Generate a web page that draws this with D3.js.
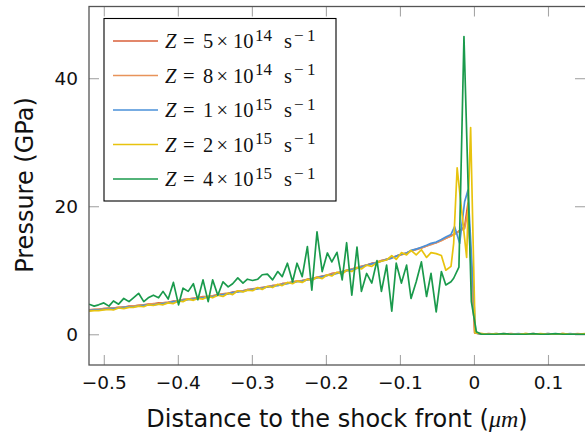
<!DOCTYPE html>
<html><head><meta charset="utf-8">
<script src="https://cdn.jsdelivr.net/npm/d3@7/dist/d3.min.js"></script>
<style>body{margin:0;background:#fff} svg{display:block}</style>
</head><body>
<svg id="chart" width="585" height="434"></svg>
<script>
// ---------- data ----------
const distance = [
 -0.520,-0.513,-0.507,-0.500,-0.493,-0.487,-0.480,-0.473,-0.466,-0.460,
 -0.453,-0.446,-0.440,-0.433,-0.426,-0.420,-0.413,-0.406,-0.399,-0.393,
 -0.386,-0.379,-0.373,-0.366,-0.359,-0.353,-0.346,-0.339,-0.332,-0.326,
 -0.319,-0.312,-0.306,-0.299,-0.292,-0.286,-0.279,-0.272,-0.265,-0.259,
 -0.252,-0.245,-0.239,-0.232,-0.225,-0.219,-0.212,-0.205,-0.198,-0.192,
 -0.185,-0.178,-0.172,-0.165,-0.158,-0.152,-0.145,-0.138,-0.131,-0.125,
 -0.118,-0.111,-0.105,-0.098,-0.091,-0.085,-0.078,-0.071,-0.064,-0.058,
 -0.051,-0.044,-0.038,-0.031];
const tailDistance = [0.01,0.02,0.03,0.04,0.05,0.06,0.07,0.08,0.09,0.10,0.11,0.12,0.13,0.14,0.15];

const pressure5e14 = [
 3.8,3.9,3.9,4.0,4.1,4.1,4.2,4.2,4.4,4.4,
 4.5,4.6,4.7,4.7,4.9,4.9,5.0,5.2,5.2,5.4,
 5.5,5.6,5.7,5.9,5.9,6.0,6.2,6.3,6.4,6.6,
 6.7,6.8,7.0,7.0,7.2,7.3,7.4,7.6,7.7,7.9,
 8.0,8.2,8.3,8.4,8.6,8.7,8.9,9.1,9.2,9.5,
 9.6,9.8,10.0,10.2,10.4,10.6,10.8,11.1,11.2,11.5,
 11.7,12.0,12.2,12.5,12.7,13.0,13.3,13.5,13.8,14.1,
 14.3,14.7,15.0,15.4];
const pressure8e14 = [
 3.8,3.8,3.9,4.0,4.0,4.1,4.2,4.3,4.3,4.4,
 4.5,4.6,4.6,4.8,4.8,4.9,5.0,5.1,5.3,5.4,
 5.5,5.6,5.7,5.8,5.9,6.0,6.1,6.3,6.4,6.5,
 6.7,6.8,6.9,7.1,7.2,7.3,7.4,7.6,7.7,7.9,
 8.0,8.1,8.3,8.4,8.5,8.7,8.9,9.0,9.3,9.4,
 9.6,9.8,10.0,10.2,10.4,10.6,10.8,11.0,11.3,11.5,
 11.7,11.9,12.2,12.4,12.7,13.0,13.2,13.5,13.8,14.0,
 14.3,14.6,15.0,15.3];
const pressure1e15 = [
 3.7,3.8,3.8,3.9,4.0,4.0,4.1,4.2,4.3,4.3,
 4.4,4.5,4.6,4.6,4.7,4.8,4.9,5.1,5.1,5.3,
 5.4,5.5,5.6,5.7,5.8,5.9,6.1,6.2,6.3,6.5,
 6.6,6.7,6.9,7.0,7.1,7.2,7.4,7.5,7.6,7.8,
 7.9,8.1,8.2,8.3,8.5,8.6,8.8,9.0,9.2,9.3,
 9.5,9.7,9.9,10.1,10.3,10.5,10.8,11.0,11.2,11.4,
 11.7,11.9,12.2,12.5,12.7,13.1,13.3,13.6,13.9,14.2,
 14.4,14.8,15.2,15.6];
const pressure2e15 = [
 3.6,3.7,3.7,3.8,3.9,3.8,4.1,4.0,4.2,4.2,
 4.4,4.3,4.6,4.5,4.7,4.6,4.9,4.8,5.2,5.1,
 5.5,5.3,5.6,5.5,5.9,5.7,6.1,5.9,6.4,6.2,
 6.8,6.6,6.9,6.8,7.3,7.0,7.5,7.3,7.8,7.6,
 8.1,7.9,8.3,8.1,8.6,8.4,8.9,8.7,9.3,9.1,
 9.7,9.4,10.0,9.8,10.4,10.2,10.8,10.6,11.2,11.4,
 11.6,12.3,11.7,12.75,12.4,13.1,12.4,13.2,12.0,12.75,
 12.6,12.3,10.0,10.6];
const pressure4e15 = [
 4.7,4.4,4.6,4.9,4.4,5.2,4.7,5.6,5.1,5.7,
 6.4,5.1,5.7,6.1,5.7,6.7,5.5,8.1,4.6,7.2,
 6.7,7.9,5.4,8.5,5.1,8.5,6.1,8.2,7.4,7.9,
 8.8,8.0,8.6,8.4,8.6,9.3,9.4,8.5,9.8,9.0,
 11.1,8.2,11.1,9.0,13.7,6.9,16.0,9.8,12.7,11.3,
 12.8,8.5,14.3,6.1,13.6,6.7,9.5,8.0,11.5,6.7,
 10.8,3.6,11.1,8.0,10.8,5.6,8.2,11.3,5.9,9.5,
 3.5,9.8,7.7,8.2];

// points at the shock front (own sampling per run)
const frontDistance5e14 = [-0.0238,-0.0126,-0.0081,0.0010];
const frontPressure5e14 = [15.8,16.8,20.5,0.2];
const frontDistance8e14 = [-0.0238,-0.0126,-0.0081,0.0010];
const frontPressure8e14 = [15.9,16.5,19.2,0.2];
const frontDistance1e15 = [-0.0261,-0.0193,-0.0126,-0.0081,0.0023];
const frontPressure1e15 = [16.8,14.2,20.7,22.5,0.2];
const frontDistance2e15 = [-0.0274,-0.0227,-0.0099,-0.0045,0.0016];
const frontPressure2e15 = [14.2,26.0,12.0,32.3,0.2];
const frontDistance4e15 = [-0.0274,-0.0203,-0.0135,-0.0035,0.0032];
const frontPressure4e15 = [8.75,10.5,46.5,5.1,0.4];

// ahead of the front
const tail5e14 = [0.0,0.1,0.0,0.0,0.1,0.0,0.0,0.1,0.0,0.0,0.0,0.1,0.0,0.0,0.0];
const tail8e14 = [0.1,0.0,0.0,0.1,0.0,0.0,0.1,0.0,0.0,0.1,0.0,0.0,0.0,0.1,0.0];
const tail1e15 = [0.0,0.0,0.1,0.0,0.0,0.1,0.0,0.0,0.0,0.1,0.0,0.0,0.1,0.0,0.0];
const tail2e15 = [0.1,0.0,0.1,0.0,0.0,0.0,0.1,0.0,0.1,0.0,0.0,0.1,0.0,0.0,0.1];
const tail4e15 = [0.0,0.0,0.0,0.1,0.0,0.0,0.0,0.1,0.0,0.0,0.1,0.0,0.0,0.0,0.0];

const legendMantissa = ["5","8","1","2","4"];
const legendExponent = ["14","14","15","15","15"];
const seriesColors = ["#d95f3a","#e8935a","#4a90d9","#e8c30e","#1a9a4c"];

const xTicks = [-0.5,-0.4,-0.3,-0.2,-0.1,0,0.1];
const xTickLabels = ["\u22120.5","\u22120.4","\u22120.3","\u22120.2","\u22120.1","0","0.1"];
const yTicks = [0,20,40];
const yTickLabels = ["0","20","40"];

// ---------- build ----------
function build(bulk, fx, fy, tail){
  const pts = distance.map((d,i)=>[d,bulk[i]]);
  fx.forEach((d,i)=>pts.push([d,fy[i]]));
  tailDistance.forEach((d,i)=>pts.push([d,tail[i]]));
  return pts;
}
const series = [
  build(pressure5e14, frontDistance5e14, frontPressure5e14, tail5e14),
  build(pressure8e14, frontDistance8e14, frontPressure8e14, tail8e14),
  build(pressure1e15, frontDistance1e15, frontPressure1e15, tail1e15),
  build(pressure2e15, frontDistance2e15, frontPressure2e15, tail2e15),
  build(pressure4e15, frontDistance4e15, frontPressure4e15, tail4e15)
];

const svg = d3.select("#chart");
const L = 89, R = 585, T = 6.5, B = 365;
const x = d3.scaleLinear().domain([-0.52, 0.15]).range([L, R]);
const y = d3.scaleLinear().domain([-4.8, 51.2]).range([B, T]);

svg.append("defs").append("clipPath").attr("id","clip")
  .append("rect").attr("x",L).attr("y",T).attr("width",R-L).attr("height",B-T);

const tickLen = 10;
const tickColor = "#a6a6a6";
const sans = "DejaVu Sans";

const xb = svg.append("g").attr("transform",`translate(0,${B})`)
  .call(d3.axisBottom(x).tickValues(xTicks).tickFormat((d,i)=>xTickLabels[i]).tickSize(-tickLen).tickPadding(11));
const xt = svg.append("g").attr("transform",`translate(0,${T})`)
  .call(d3.axisTop(x).tickValues(xTicks).tickFormat("").tickSize(-tickLen));
const yl = svg.append("g").attr("transform",`translate(${L},0)`)
  .call(d3.axisLeft(y).tickValues(yTicks).tickFormat((d,i)=>yTickLabels[i]).tickSize(-tickLen).tickPadding(11));
const yr = svg.append("g").attr("transform",`translate(${R},0)`)
  .call(d3.axisRight(y).tickValues(yTicks).tickFormat("").tickSize(-tickLen));

[xb,xt,yl,yr].forEach(g=>{
  g.select(".domain").remove();
  g.selectAll(".tick line").attr("stroke",tickColor).attr("stroke-width",1.1);
  g.selectAll(".tick text").attr("fill","#111").attr("font-family",sans).attr("font-size",18.5);
});

const line = d3.line().x(d=>x(d[0])).y(d=>y(d[1]));
svg.append("g").attr("clip-path","url(#clip)")
  .selectAll("path").data(series).join("path")
  .attr("d",line).attr("fill","none")
  .attr("stroke",(d,i)=>seriesColors[i])
  .attr("stroke-width",1.7).attr("stroke-linejoin","round");

svg.append("rect").attr("x",L).attr("y",T).attr("width",R-L+2).attr("height",B-T)
  .attr("fill","none").attr("stroke","#555").attr("stroke-width",1.3);

// legend
const lg = svg.append("g");
lg.append("rect").attr("x",104).attr("y",18.5).attr("width",232).attr("height",182.5)
  .attr("fill","#fff").attr("stroke","#000").attr("stroke-width",1.1);
const serif = "Liberation Serif";
legendMantissa.forEach((m,i)=>{
  const cy = 41 + i*34.5;
  const base = cy + 7;
  const sup = base - 7.5;
  lg.append("line").attr("x1",113).attr("x2",158).attr("y1",cy).attr("y2",cy)
    .attr("stroke",seriesColors[i]).attr("stroke-width",1.7);
  const t = lg.append("text").attr("y",base)
    .attr("font-family",serif).attr("font-size",20.5).attr("fill","#111");
  t.append("tspan").attr("x",165).attr("y",base).attr("font-style","italic").text("Z");
  t.append("tspan").attr("x",183).attr("y",base).text("=");
  t.append("tspan").attr("x",203).attr("y",base).text(m);
  t.append("tspan").attr("x",216.5).attr("y",base).text("\u00d7");
  t.append("tspan").attr("x",233).attr("y",base).text("10");
  t.append("tspan").attr("x",255).attr("y",sup).attr("font-size",17).text(legendExponent[i]);
  t.append("tspan").attr("x",284).attr("y",base).text("s");
  t.append("tspan").attr("x",294).attr("y",sup).attr("font-size",17).text("\u2212");
  t.append("tspan").attr("x",307).attr("y",sup).attr("font-size",17).text("1");
});

// axis titles
const xl = svg.append("text").attr("x",337).attr("y",427).attr("text-anchor","middle")
  .attr("font-family",sans).attr("font-size",24).attr("fill","#111");
xl.append("tspan").text("Distance to the shock front (");
xl.append("tspan").attr("font-family",serif).attr("font-style","italic").text("\u03bcm");
xl.append("tspan").text(")");

svg.append("text").attr("transform","translate(33,185) rotate(-90)").attr("text-anchor","middle")
  .attr("font-family",sans).attr("font-size",24).attr("fill","#111").text("Pressure (GPa)");
</script>
</body></html>
